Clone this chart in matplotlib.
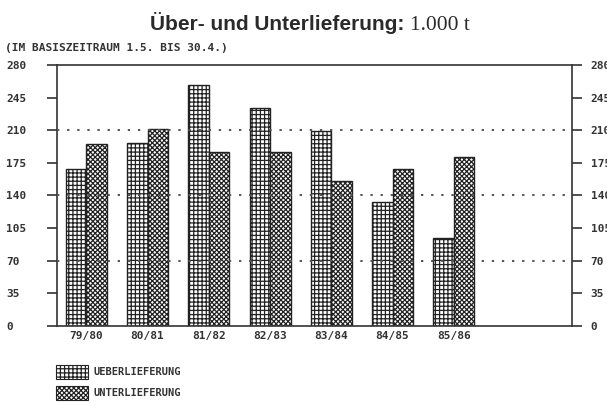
import matplotlib
matplotlib.use('Agg')
import matplotlib.pyplot as plt
import numpy as np
from matplotlib.patches import Rectangle
from matplotlib.transforms import ScaledTranslation

# Over- and under-delivery per season, in 1.000 t
seasons = ['79/80', '80/81', '81/82', '82/83', '83/84', '84/85', '85/86']
ueber = [168, 196, 259, 234, 209, 133, 94]
unter = [195, 211, 187, 187, 155, 168, 181]
yticks = [0, 35, 70, 105, 140, 175, 210, 245, 280]
grid_levels = [70, 140, 210]

plt.rcParams['hatch.linewidth'] = 0.9
plt.rcParams['hatch.color'] = '#222222'
mono = 'DejaVu Sans Mono'
ink = '#333333'
hatch_ueber = '++++'
hatch_unter = 'xxxxxxx'

fig = plt.figure(figsize=(6.07, 4.03), dpi=100)
ax = fig.add_axes([0.0939, 0.1918, 0.8484, 0.6469])

x = np.arange(len(seasons))
w = 0.335
ax.bar(x - w / 2, ueber, w, facecolor='white', edgecolor='#222222',
       hatch=hatch_ueber, linewidth=1.0, zorder=2)
ax.bar(x + w / 2, unter, w, facecolor='white', edgecolor='#222222',
       hatch=hatch_unter, linewidth=1.0, zorder=2)

for g in grid_levels:
    ax.axhline(g, color='#555555', linewidth=1.4, linestyle=(0, (1.2, 4)),
               zorder=3)

ax.set_xlim(-0.48, 7.93)
ax.set_ylim(0, 280)
ax.set_yticks(yticks)
ax.set_xticks(x)
ax.set_xticklabels(seasons, fontfamily=mono, fontweight='bold', fontsize=8,
                   color=ink)
ax.tick_params(axis='x', length=0, pad=4)
ax.tick_params(axis='y', which='both', direction='out', length=7, width=1.2,
               color=ink, left=True, right=True, labelleft=True,
               labelright=True, labelsize=8, pad=29.5)
for t in ax.yaxis.get_major_ticks():
    for lab in (t.label1, t.label2):
        lab.set_fontfamily(mono)
        lab.set_fontweight('bold')
        lab.set_color(ink)
    t.label1.set_ha('left')
    # right side labels sit close to the ticks
    t.label2.set_transform(t.label2.get_transform() +
                           ScaledTranslation(-23 / 72, 0, fig.dpi_scale_trans))

for s in ax.spines.values():
    s.set_color(ink)
    s.set_linewidth(1.2)

# title: bold sans part, serif unit part
fig.text(0.667, 0.925, 'Über- und Unterlieferung:', ha='right',
         va='baseline', fontsize=15, fontweight='bold',
         fontfamily='Liberation Sans', color='#2a2a2a')
fig.text(0.675, 0.925, '1.000 t', ha='left', va='baseline', fontsize=15.5,
         fontfamily='Liberation Serif', color='#2a2a2a')
fig.text(0.008, 0.881, '(IM BASISZEITRAUM 1.5. BIS 30.4.)', ha='left',
         va='center', fontsize=8, fontweight='bold', fontfamily=mono,
         color=ink)

# legend boxes below the plot
for i, (hatch, label) in enumerate([(hatch_ueber, 'UEBERLIEFERUNG'),
                                    (hatch_unter, 'UNTERLIEFERUNG')]):
    y0 = 1 - (379 + i * 20.5) / 403
    fig.patches.append(Rectangle((56 / 607, y0), 32 / 607, 14 / 403,
                                 transform=fig.transFigure, facecolor='white',
                                 edgecolor='#222222', hatch=hatch,
                                 linewidth=0.8))
    fig.text(93 / 607, y0 + 7 / 403, label, ha='left', va='center',
             fontsize=7.5, fontweight='bold', fontfamily=mono, color=ink)

fig.savefig('out.png', dpi=100)
